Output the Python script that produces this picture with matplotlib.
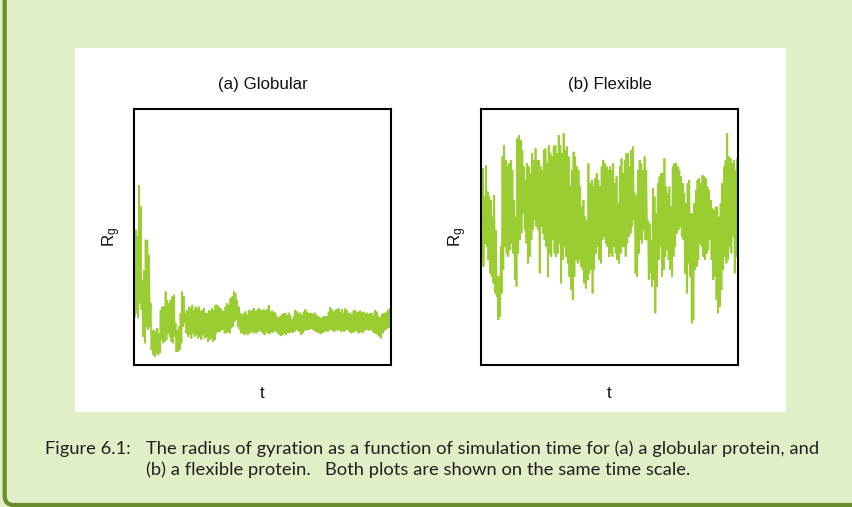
import numpy as np
import matplotlib
matplotlib.use("Agg")
import matplotlib.pyplot as plt
from matplotlib.patches import Rectangle, FancyBboxPatch
from matplotlib.transforms import IdentityTransform
from matplotlib import font_manager

# ---------------- data (y in axis units 0..100) ----------------
# alternating peaks / troughs of the dense trajectory, left to right
globular_high = [
    59.3, 52.8, 50.2, 70.3, 61.9, 33.2, 37.1, 48.9, 48.9, 43.0,
    24.1, 13.7, 13.7, 13.0, 14.4, 12.4, 21.5, 22.8, 22.8, 28.7,
    25.4, 24.1, 25.4, 26.7, 27.4, 16.3, 13.7, 15.0, 20.2, 28.7,
    26.7, 20.2, 21.5, 22.8, 22.2, 23.5, 21.5, 22.8, 22.2, 22.8,
    20.9, 21.5, 22.2, 20.2, 20.2, 21.5, 20.9, 22.2, 21.5, 23.5,
    23.5, 22.8, 22.2, 21.5, 20.9, 22.8, 24.1, 23.5, 26.1, 26.7,
    28.7, 28.0, 25.4, 22.8, 20.2, 19.6, 20.2, 20.9, 19.6, 21.5,
    20.9, 21.5, 22.2, 20.9, 21.5, 22.2, 21.5,
    21.5, 21.7, 21.2, 21.7, 23.4, 20.8, 21.2, 20.8, 20.4, 18.9,
    18.2, 19.1, 19.9, 20.2, 20.2, 19.5, 20.4, 19.5, 17.8, 18.9,
    21.5, 20.8, 20.2, 20.4, 19.5, 20.8, 21.7, 20.8, 20.2, 20.4,
    20.2, 19.9, 20.4, 19.5, 18.9, 18.2, 18.6, 18.9, 19.1, 18.9,
    20.8, 22.5, 21.7, 20.8, 21.5, 21.7, 22.1, 20.8, 21.7, 20.2,
    22.1, 21.5, 20.2, 20.4, 19.9, 21.2, 21.5, 20.4, 20.8, 21.2,
    20.4, 20.8, 20.2, 20.4, 19.9, 20.2, 20.4, 19.5, 21.5, 20.8,
    18.9, 18.6, 19.9, 20.2, 20.4, 20.8, 21.7, 22.1,
]
globular_low = [
    18.9, 20.2, 18.3, 24.1, 21.5, 11.1, 8.5, 15.0, 13.7, 15.0,
    5.9, 3.9, 3.3, 4.6, 3.9, 4.6, 9.8, 8.5, 9.1, 9.8,
    12.4, 11.1, 9.1, 8.5, 11.1, 5.2, 5.2, 5.9, 8.5, 15.0,
    16.3, 12.4, 11.1, 11.7, 10.4, 12.4, 11.1, 11.7, 10.4, 11.1,
    9.8, 11.7, 10.4, 11.1, 9.1, 9.8, 10.4, 9.1, 9.8, 12.4,
    13.0, 13.0, 13.7, 13.7, 12.4, 12.4, 13.0, 12.4, 14.4, 15.0,
    17.0, 17.6, 15.0, 13.7, 12.4, 12.4, 11.7, 12.4, 11.7, 12.4,
    13.0, 12.4, 13.0, 12.4, 13.0, 13.7, 13.0,
    12.4, 11.7, 13.0, 12.4, 12.1, 13.0, 12.6, 13.4, 13.0, 12.4,
    11.7, 11.3, 11.7, 12.4, 11.7, 12.6, 12.4, 13.0, 12.6, 13.0,
    13.9, 13.4, 13.0, 11.7, 12.4, 13.4, 13.7, 13.7, 13.9, 14.3,
    13.7, 13.4, 13.0, 12.6, 12.4, 12.1, 12.6, 13.0, 13.4, 13.0,
    13.7, 13.9, 13.4, 13.0, 13.7, 13.4, 13.9, 13.0, 13.4, 13.0,
    13.7, 13.9, 13.0, 12.4, 12.6, 13.0, 13.4, 12.6, 12.4, 13.0,
    12.6, 13.4, 13.7, 13.9, 13.4, 13.7, 13.0, 12.4, 12.1, 11.7,
    11.1, 10.4, 12.4, 13.4, 13.9, 14.3, 14.7, 15.0,
]
flexible_high = [
    81.4, 76.8, 65.8, 78.1, 67.7, 65.8, 64.5, 57.9, 66.4, 52.7,
    34.5, 34.5, 46.2, 81.4, 85.9, 80.1, 77.5, 78.8, 80.1, 76.2,
    64.5, 57.9, 88.5, 89.8, 87.9, 84.0, 77.5, 72.3, 78.8, 77.5,
    74.9, 82.7, 80.1, 84.6, 80.1, 80.1, 77.5, 76.2, 84.0, 84.6,
    78.8, 85.9, 82.7, 81.4, 85.3, 85.9, 82.7, 89.8, 85.9, 82.7,
    90.5, 84.0, 85.3, 81.4, 69.7, 76.2, 83.3, 81.4, 77.5, 76.2,
    69.7, 61.8, 64.5, 57.9, 56.6, 78.8, 71.0, 72.3, 69.7, 72.9,
    74.9, 72.3, 69.7, 77.5, 80.1, 78.8, 77.5, 76.2,
    77.5, 76.2, 78.8, 71.0, 73.6, 63.2, 77.5, 80.7, 74.9, 80.1,
    82.7, 82.7, 77.5, 84.0, 85.3, 67.1, 65.8, 76.2, 80.1, 78.8,
    76.2, 81.4, 76.2, 56.6, 55.3, 48.8, 69.0, 65.8, 59.2, 71.0,
    73.6, 74.9, 74.9, 80.7, 69.7, 67.1, 69.7, 61.8, 77.5, 78.8,
    78.8, 77.5, 76.2, 73.6, 71.0, 67.1, 63.2, 71.0, 72.3, 59.2,
    59.2, 63.2, 68.4, 72.3, 72.9, 71.0, 74.2, 73.6, 72.9, 69.7,
    68.4, 64.5, 61.2, 60.5, 61.8, 61.8, 57.9, 63.2, 71.0, 77.5,
    80.1, 90.5, 81.4, 80.7, 78.8, 80.1, 76.2, 80.7,
]
flexible_low = [
    42.3, 38.4, 47.5, 46.2, 41.0, 35.8, 34.5, 31.9, 28.0, 26.7,
    17.6, 18.9, 28.0, 37.1, 46.2, 43.6, 42.3, 44.9, 47.5, 43.6,
    33.2, 30.6, 43.6, 48.8, 51.4, 59.2, 52.7, 47.5, 39.7, 42.3,
    48.8, 52.7, 56.6, 54.0, 52.7, 35.8, 54.0, 51.4, 48.8, 46.2,
    34.5, 43.6, 42.3, 48.8, 43.6, 42.3, 43.6, 47.5, 31.9, 41.0,
    46.2, 42.3, 39.7, 34.5, 29.3, 25.4, 34.5, 41.0, 39.7, 41.0,
    38.4, 37.1, 31.9, 29.9, 33.2, 35.8, 37.1, 28.0, 37.1, 43.6,
    46.2, 41.0, 39.7, 48.8, 50.1, 47.5, 46.2, 42.3,
    43.6, 42.3, 46.2, 43.6, 41.0, 39.7, 43.6, 46.2, 46.2, 42.3,
    47.5, 50.1, 51.4, 54.0, 56.6, 35.8, 34.5, 43.6, 48.8, 47.5,
    52.7, 48.8, 48.8, 33.2, 35.8, 30.6, 33.2, 20.2, 30.6, 41.0,
    46.2, 34.5, 37.1, 42.3, 44.9, 41.0, 37.1, 34.5, 42.3, 46.2,
    51.4, 52.7, 54.0, 50.1, 48.8, 35.8, 28.0, 39.7, 34.5, 16.3,
    17.6, 37.1, 38.4, 41.0, 47.5, 46.2, 42.3, 41.0, 43.6, 44.9,
    48.8, 41.0, 33.2, 34.5, 25.4, 20.2, 22.8, 29.3, 37.1, 42.3,
    39.7, 41.0, 46.2, 43.6, 50.1, 35.8, 42.3, 44.9,
]

panel_titles = ["(a) Globular", "(b) Flexible"]
x_label = "t"
y_label = r"$\mathregular{R_g}$"
caption_head = "Figure 6.1:"
caption_lines = [
    "The radius of gyration as a function of simulation time for (a) a globular protein, and",
    "(b) a flexible protein.   Both plots are shown on the same time scale.",
]

# ---------------- styling / layout ----------------
W, H = 852, 507
BG = "#E1EFC7"
BORDER = "#6A8C2A"
LINE = "#9ACD32"
TXT = "#231F20"


def fx(px):
    return px / W


def fy(py):
    return 1 - py / H


fig = plt.figure(figsize=(W / 100, H / 100), dpi=100, facecolor=BG)

box = FancyBboxPatch((4.7, 2.0), 858, 560,
                     boxstyle="round,pad=0,rounding_size=9",
                     transform=IdentityTransform(), facecolor=BG,
                     edgecolor=BORDER, linewidth=3.0, zorder=0)
fig.add_artist(box)
panel = Rectangle((75, H - 412), 711, 364, transform=IdentityTransform(),
                  facecolor="white", edgecolor="none", zorder=1)
fig.add_artist(panel)

series_sets = [(globular_high, globular_low), (flexible_high, flexible_low)]
axes_left_px = [134, 481]
label_x_px = [111.5, 457.5]

for i, (hi, lo) in enumerate(series_sets):
    left = axes_left_px[i]
    ax = fig.add_axes([fx(left), fy(365), 257 / W, 256 / H], zorder=2)
    rg = np.column_stack([hi, lo]).ravel()
    t = np.arange(len(rg))
    ax.plot(t, rg, color=LINE, linewidth=1.25, solid_joinstyle="miter")
    ax.set_xlim(0, len(rg) - 1)
    ax.set_ylim(0, 100)
    ax.set_xticks([])
    ax.set_yticks([])
    for sp in ax.spines.values():
        sp.set_linewidth(1.5)
        sp.set_color("black")
    cx = left + 128.5
    fig.text(fx(cx), fy(89), panel_titles[i], ha="center", va="baseline",
             fontsize=12.2, family="Liberation Sans", color="#111111")
    fig.text(fx(cx), fy(398), x_label, ha="center", va="baseline",
             fontsize=12.2, family="Liberation Sans", color="#111111")
    fig.text(fx(label_x_px[i]), fy(237), y_label, ha="center", va="center",
             rotation=90, fontsize=12.2, family="Liberation Sans", color="#111111")

# ---------------- caption ----------------
names = {f.name for f in font_manager.fontManager.ttflist}
cap_font = next((n for n in ["Liberation Sans Narrow", "Lato", "Open Sans"] if n in names),
                "DejaVu Sans")
renderer = fig.canvas.get_renderer()
fs0 = 13.0
l1 = fig.text(fx(146), fy(454), caption_lines[0], ha="left", va="baseline",
              fontsize=fs0, family=cap_font, color=TXT)
w1 = l1.get_window_extent(renderer).width
fs = fs0 * 669.0 / w1
l1.set_fontsize(fs)
fig.text(fx(146), fy(475), caption_lines[1], ha="left", va="baseline",
         fontsize=fs, family=cap_font, color=TXT)
fig.text(fx(45), fy(454), caption_head, ha="left", va="baseline",
         fontsize=fs, family=cap_font, color=TXT)

fig.savefig("out.png", dpi=100, facecolor=BG)
